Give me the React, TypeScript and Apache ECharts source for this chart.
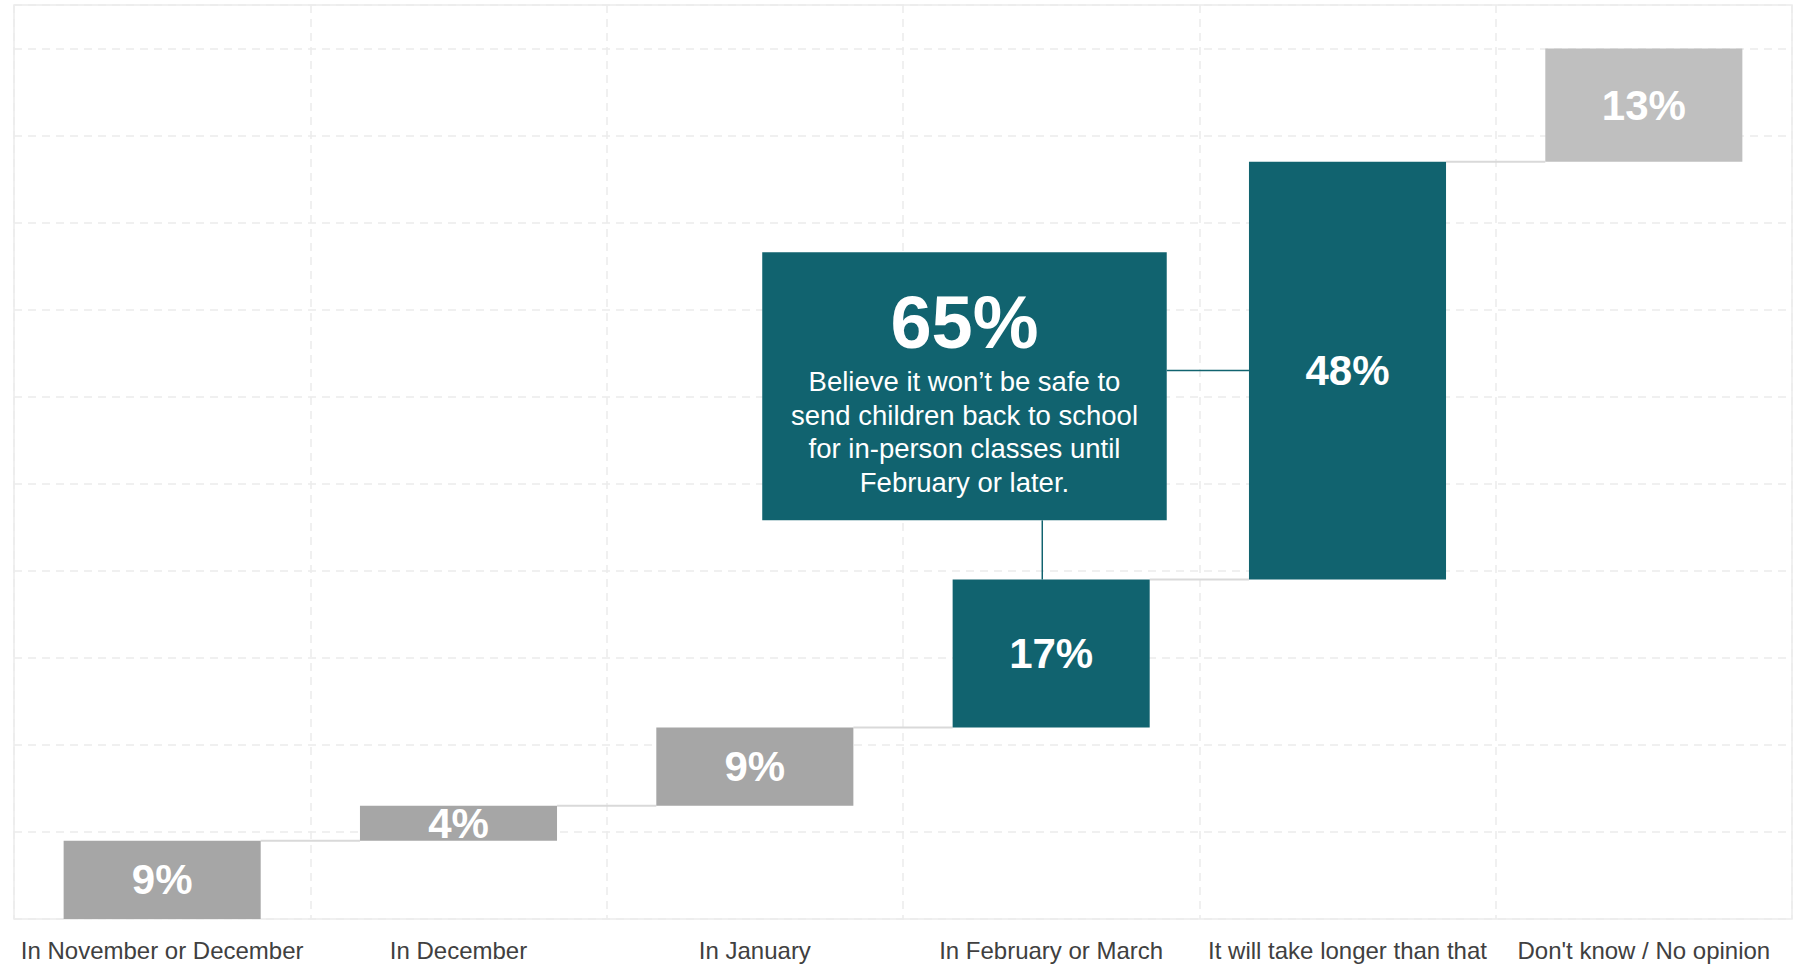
import React, { useEffect, useRef } from "react";
import * as echarts from "echarts";

const categories = [
  "In November or December",
  "In December",
  "In January",
  "In February or March",
  "It will take longer than that",
  "Don't know / No opinion",
];
const values = [9, 4, 9, 17, 48, 13];
const barColors = ["#a6a6a6", "#a6a6a6", "#a6a6a6", "#11636f", "#11636f", "#bfbfbf"];
const yMax = 105;
const yInterval = 10;
const annotationValue = "65%";
const annotationLines = [
  "Believe it won\u2019t be safe to",
  "send children back to school",
  "for in-person classes until",
  "February or later.",
];

const FONT = "'Liberation Sans', Arial, Helvetica, sans-serif";
const TEAL = "#11636f";

export default function App() {
  const ref = useRef<HTMLDivElement>(null);

  useEffect(() => {
    if (!ref.current) return;
    const chart = echarts.init(ref.current, undefined, { renderer: "svg" });

    const bases: number[] = [];
    const tops: number[] = [];
    let acc = 0;
    values.forEach((v) => {
      bases.push(acc);
      acc += v;
      tops.push(acc);
    });
    const barPct = 0.665;

    chart.setOption({
      animation: false,
      grid: {
        left: 14,
        right: 7,
        top: 5,
        bottom: 45,
        show: true,
        borderColor: "#ececec",
        borderWidth: 1.5,
        backgroundColor: "transparent",
      },
      xAxis: {
        type: "category",
        data: categories,
        axisLine: { show: false },
        axisTick: { show: false },
        axisLabel: {
          interval: 0,
          margin: 19,
          fontSize: 24,
          color: "#404040",
          fontFamily: FONT,
        },
        splitLine: {
          show: true,
          interval: 0,
          lineStyle: { color: "#ececec", width: 1.5, type: [8, 6] },
        },
      },
      yAxis: {
        type: "value",
        min: 0,
        max: yMax,
        interval: yInterval,
        axisLabel: { show: false },
        axisLine: { show: false },
        axisTick: { show: false },
        splitLine: {
          show: true,
          lineStyle: { color: "#ececec", width: 1.5, type: [8, 6] },
        },
      },
      series: [
        {
          type: "custom",
          z: 1,
          silent: true,
          data: tops.slice(0, tops.length - 1).map((t, i) => [i, t]),
          renderItem: (params: any, api: any) => {
            const i = api.value(0);
            const y = api.value(1);
            const p1 = api.coord([i, y]);
            const p2 = api.coord([i + 1, y]);
            const band = api.size([1, 0])[0];
            const half = (band * barPct) / 2;
            return {
              type: "line",
              shape: { x1: p1[0] + half, y1: p1[1], x2: p2[0] - half, y2: p2[1] },
              style: { stroke: "#d9d9d9", lineWidth: 2 },
            };
          },
        },
        {
          type: "bar",
          stack: "w",
          silent: true,
          barWidth: barPct * 100 + "%",
          itemStyle: { color: "transparent" },
          data: bases,
          z: 2,
        },
        {
          type: "bar",
          stack: "w",
          barWidth: barPct * 100 + "%",
          z: 2,
          data: values.map((v, i) => ({
            value: v,
            itemStyle: { color: barColors[i] },
          })),
          label: {
            show: true,
            position: "inside",
            formatter: (p: any) => p.value + "%",
            color: "#ffffff",
            fontSize: 42,
            fontWeight: "bold",
            fontFamily: FONT,
          },
        },
      ],
    });

    const xc = (idx: number) => {
      const c0 = chart.convertToPixel({ xAxisIndex: 0 }, categories[0]) as number;
      const c1 = chart.convertToPixel({ xAxisIndex: 0 }, categories[1]) as number;
      return c0 + idx * (c1 - c0);
    };
    const yc = (v: number) => chart.convertToPixel({ yAxisIndex: 0 }, v) as number;
    const band = xc(1) - xc(0);

    const boxL = xc(2.025);
    const boxR = xc(3.39);
    const boxT = yc(76.6);
    const boxB = yc(45.8);
    const boxCx = (boxL + boxR) / 2;
    const hY = yc(bases[4] + values[4] / 2);
    const barLeft4 = xc(4) - (band * barPct) / 2;
    const vX = xc(2.97);
    const top3 = yc(tops[3]);

    chart.setOption({
      graphic: [
        {
          type: "line",
          z: 10,
          shape: { x1: boxR, y1: hY, x2: barLeft4, y2: hY },
          style: { stroke: TEAL, lineWidth: 1.5 },
        },
        {
          type: "line",
          z: 10,
          shape: { x1: vX, y1: boxB, x2: vX, y2: top3 },
          style: { stroke: TEAL, lineWidth: 1.5 },
        },
        {
          type: "rect",
          z: 11,
          shape: { x: boxL, y: boxT, width: boxR - boxL, height: boxB - boxT },
          style: { fill: TEAL },
        },
        {
          type: "text",
          z: 12,
          x: boxCx,
          y: boxT + 70,
          style: {
            text: annotationValue,
            fill: "#ffffff",
            fontSize: 74,
            fontWeight: "bold",
            fontFamily: FONT,
            align: "center",
            verticalAlign: "middle",
          },
        },
        {
          type: "text",
          z: 12,
          x: boxCx,
          y: boxT + 113,
          style: {
            text: annotationLines.join("\n"),
            fill: "#ffffff",
            fontSize: 27.5,
            lineHeight: 33.5,
            fontFamily: FONT,
            align: "center",
            verticalAlign: "top",
          },
        },
      ],
    });

    return () => chart.dispose();
  }, []);

  return (
    <div
      ref={ref}
      style={{ position: "fixed", left: 0, top: 0, width: 1799, height: 964, background: "#ffffff" }}
    />
  );
}
